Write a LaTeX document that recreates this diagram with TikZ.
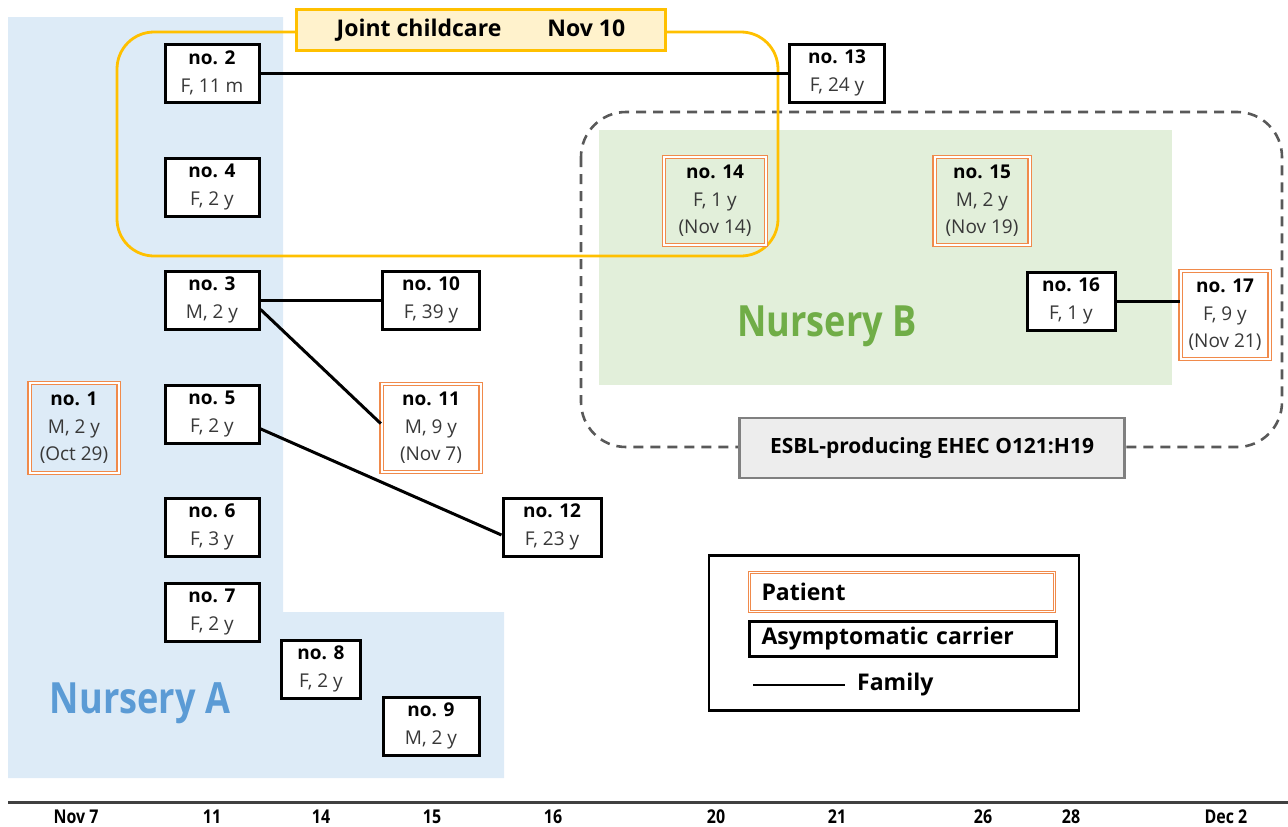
\documentclass[tikz,border=0pt]{standalone}
\usepackage{fontspec}
\setmainfont{Open Sans}
\newfontfamily\condfont[FakeStretch=0.84]{Open Sans}
\usepackage{tikz}
\usetikzlibrary{calc}

\definecolor{nurseryA}{HTML}{DDEBF7}
\definecolor{nurseryAtext}{HTML}{5B9BD5}
\definecolor{nurseryB}{HTML}{E2EFDA}
\definecolor{nurseryBtext}{HTML}{70AD47}
\definecolor{childcare}{HTML}{FFC000}
\definecolor{childcarefill}{HTML}{FFF2CC}
\definecolor{patientorange}{HTML}{F08A4B}
\definecolor{strain}{HTML}{595959}

\newcommand{\carriertext}[2]{\textbf{no. #1}\\{\color{black!78}#2}}
\newcommand{\patienttext}[3]{\textbf{no. #1}\\{\color{black!78}#2}\\{\color{black!78}(#3)}}

\begin{document}
\begin{tikzpicture}[
  x=1pt, y=-1pt,
  carrier/.style={draw=black, line width=3pt, fill=white, minimum width=94pt,
    minimum height=58pt, inner sep=1pt, align=center, font=\fontsize{19}{28}\selectfont},
  patient/.style={draw=patientorange, double=white, double distance=2pt, line width=1.4pt,
    minimum width=94pt, minimum height=88pt, inner sep=1pt, align=center,
    font=\fontsize{19}{27.5}\selectfont},
  family/.style={line width=3pt, draw=black},
  nursery/.style={font=\condfont\bfseries\fontsize{43}{48}\selectfont},
  legtext/.style={font=\bfseries\fontsize{23}{26}\selectfont},
  datelbl/.style={font=\condfont\bfseries\fontsize{19}{21}\selectfont}
]
  \useasboundingbox (0,0) rectangle (1288,827);

  % Nursery A and Nursery B backgrounds
  \fill[nurseryA] (8,17) -- (283,17) -- (283,612) -- (504,612) -- (504,778) -- (8,778) -- cycle;
  \node[nursery, text=nurseryAtext] (labA) at (140,703) {Nursery A};
  \fill[nurseryB] (599,130) rectangle (1172,385);
  \node[nursery, text=nurseryBtext] (labB) at (827,326) {Nursery B};

  % Strain cluster
  \draw[strain, dash pattern=on 10pt off 7pt, line width=2.6pt, rounded corners=45pt]
    (581,112) rectangle (1282,447);
  \node[fill=black!7, draw=black!50, line width=2.4pt, minimum width=385pt, minimum height=60pt,
    font=\bfseries\fontsize{21}{24}\selectfont] (esbl) at (932,448) {ESBL-producing EHEC O121:H19};

  % Joint childcare
  \draw[childcare, line width=2.8pt, rounded corners=37pt] (117,32) rectangle (778,256);
  \node[fill=childcarefill, draw=childcare, line width=2.4pt, minimum width=369pt, minimum height=41pt,
    font=\bfseries\fontsize{23}{26}\selectfont] (joint) at (481,30)
    {Joint childcare\hspace{46pt}Nov 10};

  % Nursery A children
  \node[carrier] (n2) at (212,73) {\carriertext{2}{F, 11 m}};
  \node[carrier] (n4) at (212,187) {\carriertext{4}{F, 2 y}};
  \node[carrier] (n3) at (212,300) {\carriertext{3}{M, 2 y}};
  \node[patient, minimum width=89pt, minimum height=90pt] (n1) at (74,428) {\patienttext{1}{M, 2 y}{Oct 29}};
  \node[carrier] (n5) at (212,414) {\carriertext{5}{F, 2 y}};
  \node[carrier] (n6) at (212,527) {\carriertext{6}{F, 3 y}};
  \node[carrier] (n7) at (212,612) {\carriertext{7}{F, 2 y}};
  \node[carrier, minimum width=79pt] (n8) at (321,669) {\carriertext{8}{F, 2 y}};
  \node[carrier, minimum width=96pt] (n9) at (431,726) {\carriertext{9}{M, 2 y}};

  % Family members
  \node[carrier, minimum width=97pt] (n10) at (431,300) {\carriertext{10}{F, 39 y}};
  \node[patient, minimum width=99pt] (n11) at (431,428) {\patienttext{11}{M, 9 y}{Nov 7}};
  \node[carrier, minimum width=98pt] (n12) at (552,527) {\carriertext{12}{F, 23 y}};
  \node[carrier, minimum width=95pt] (n13) at (837,73) {\carriertext{13}{F, 24 y}};

  % Nursery B children
  \node[patient, minimum width=102pt] (n14) at (715,201) {\patienttext{14}{F, 1 y}{Nov 14}};
  \node[patient, minimum width=95pt] (n15) at (982,201) {\patienttext{15}{M, 2 y}{Nov 19}};
  \node[carrier, minimum width=88pt] (n16) at (1071,301) {\carriertext{16}{F, 1 y}};
  \node[patient, minimum width=89pt] (n17) at (1225,315) {\patienttext{17}{F, 9 y}{Nov 21}};

  % Family links
  \draw[family] (n2.east) -- (n13.west);
  \draw[family] (n3.east) -- (n10.west);
  \draw[family] (n3.-11) -- (n11.175);
  \draw[family] (n5.-17) -- (n12.189);
  \draw[family] (n16.east) -- (n16.east -| n17.west);

  % Legend
  \node[draw=black, line width=2.8pt, minimum width=370pt, minimum height=155pt] (legend) at (894,633) {};
  \node[draw=patientorange, double=white, double distance=1.5pt, line width=1pt,
    text width=281pt, inner xsep=12pt, minimum height=39pt, align=left, legtext] (legpat) at (902,592) {Patient};
  \node[draw=black, line width=2.2pt, text width=283pt, inner xsep=12pt, minimum height=35pt,
    align=left, legtext] (legcar) at (903,639) {Asymptomatic carrier};
  \node[legtext, anchor=west, inner sep=0pt] (legfam) at (857,685) {Family};
  \coordinate (famstart) at (753,685);
  \draw[family, line width=2.4pt] (famstart) -- ($(legfam.west)+(-12,0)$);

  % Time axis
  \coordinate (axisL) at (8,802);
  \coordinate (axisR) at (1288,802);
  \draw[black!75, line width=3pt] (axisL) -- (axisR);
  \foreach \x/\d in {76/Nov 7, 212/11, 321/14, 432/15, 553/16, 716/20, 837/21, 983/26, 1071/28, 1226/Dec 2}
    \node[datelbl] (date\x) at (\x,817) {\d};
\end{tikzpicture}
\end{document}
